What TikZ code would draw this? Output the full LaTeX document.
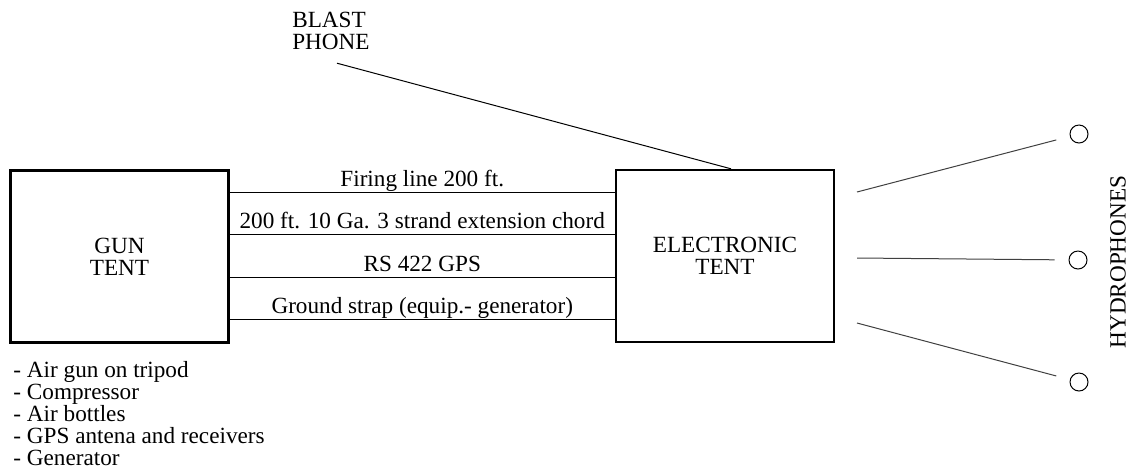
\documentclass[tikz,border=0pt]{standalone}
\usepackage{fontspec}
\setmainfont{Liberation Serif}
\usetikzlibrary{calc}

\begin{document}
\begin{tikzpicture}[x=0.5pt, y=-0.5pt,
  every node/.style={font=\fontsize{11.6}{11}\selectfont},
  tent/.style={draw, line width=1.2pt, minimum width=109pt, minimum height=86pt, align=center},
  hydro/.style={draw, circle, line width=0.5pt, minimum size=9pt, inner sep=0pt},
  cable/.style={line width=0.5pt}]
  % page frame, same proportions as the scan
  \useasboundingbox (0,0) rectangle (1135,473);
  % the two tents
  \node[tent] (gun) at (119.5,256.5) {GUN\\TENT};
  \node[tent] (elec) at (725,256) {ELECTRONIC\\TENT};
  % cables between the tents, label over each line
  \foreach \y/\lbl in {192/Firing line 200 ft., 234/200 ft. 10 Ga. 3 strand extension chord,
                       277/RS 422 GPS, 319/Ground strap (equip.- generator)}
    \draw[cable] (gun.east |- 0,\y) -- (elec.west |- 0,\y)
      node[midway, anchor=base, yshift=3pt] {\lbl};
  % blast phone
  \node[align=left, inner sep=0pt] (blast) at (331,31) {BLAST\\PHONE};
  \draw[cable] ($(blast.south)+(6,13)$) -- (elec.north -| 731,0);
  % hydrophones
  \node[hydro] (h1) at (1079,134) {};
  \node[hydro] (h2) at (1078,260) {};
  \node[hydro] (h3) at (1079,382) {};
  \coordinate (p1) at (857,192);
  \coordinate (p2) at (857,258);
  \coordinate (p3) at (857,323);
  \foreach \i in {1,2,3}
    \draw[cable, black!75, shorten >=7pt] (p\i) -- (h\i);
  \node[rotate=90] (hlbl) at (1118,262) {HYDROPHONES};
  % gear at the gun tent
  \node[anchor=west, align=left, inner sep=0pt] (gear) at (13,414)
    {- Air gun on tripod\\- Compressor\\- Air bottles\\- GPS antena and receivers\\- Generator};
\end{tikzpicture}
\end{document}
